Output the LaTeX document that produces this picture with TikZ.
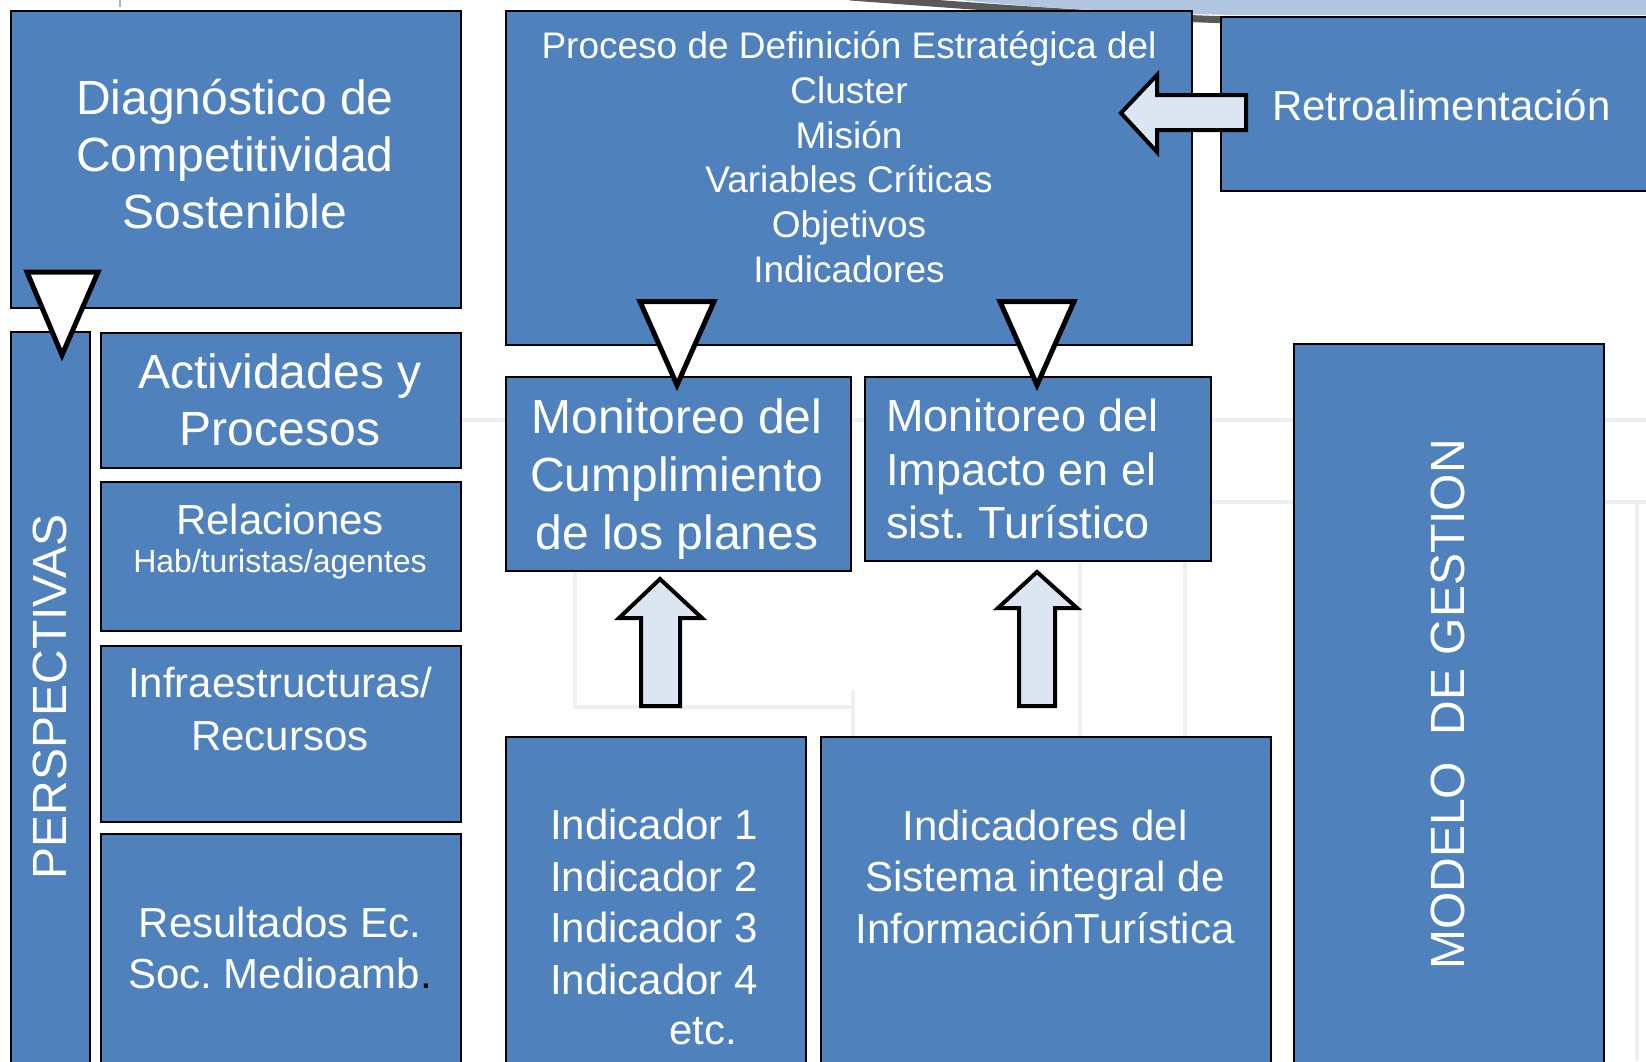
\documentclass[tikz,border=0pt]{standalone}
\usepackage{fontspec}
\setmainfont{Liberation Sans}
\frenchspacing
\definecolor{boxblue}{RGB}{79,129,189}
\definecolor{arrowfill}{RGB}{220,230,242}
\definecolor{swoosh}{RGB}{176,198,224}
\definecolor{faint}{RGB}{238,239,242}
\begin{document}
\begin{tikzpicture}[x=1pt,y=-1pt,
  box/.style={draw=black, line width=1.5pt, fill=boxblue, anchor=north west, inner sep=0pt},
  txt/.style={text=white, inner sep=0pt, align=center},
  tri/.style={draw=black, line width=5pt, fill=white, line join=miter},
  barrow/.style={draw=black, line width=4pt, fill=arrowfill, line join=miter},
  faintline/.style={draw=faint, line width=4pt}]
\useasboundingbox (0,0) rectangle (1646,1061);
\clip (0,0) rectangle (1646,1061);
% background details
\fill[white] (0,0) rectangle (1646,1061);
\fill[swoosh] (960,0) .. controls (1040,8) and (1120,12) .. (1230,15) -- (1646,15) -- (1646,0) -- cycle;
\draw[line width=7pt, gray!70!black] (850,-3) .. controls (960,5) and (1080,15) .. (1230,20);
\draw[line width=1.5pt, gray!60] (120,0) -- (120,7);
\draw[faintline] (460,420) -- (1646,420);
\draw[faintline] (1210,502) -- (1646,502);
\draw[faintline] (1637,502) -- (1637,1061);
\draw[faintline] (575,570) -- (575,707) -- (853,707);
\draw[faintline] (853,690) -- (853,736);
\draw[faintline] (1080,560) -- (1080,736);
\draw[faintline] (1185,560) -- (1185,736);
% boxes
\node[box, minimum width=450pt, minimum height=297pt] (diag) at (10,10) {};
\node[box, minimum width=686pt, minimum height=334pt] (proc) at (505,10) {};
\node[box, minimum width=440pt, minimum height=174pt] (retro) at (1220,16) {};
\node[box, minimum width=79pt, minimum height=744pt] (persp) at (10,331) {};
\node[box, minimum width=360pt, minimum height=135pt] (act) at (100,332) {};
\node[box, minimum width=360pt, minimum height=149pt] (rel) at (100,481) {};
\node[box, minimum width=360pt, minimum height=176pt] (infra) at (100,645) {};
\node[box, minimum width=360pt, minimum height=242pt] (res) at (100,833) {};
\node[box, minimum width=345pt, minimum height=194pt] (mon1) at (505,376) {};
\node[box, minimum width=346pt, minimum height=184pt] (mon2) at (864,376) {};
\node[box, minimum width=300pt, minimum height=339pt] (ind) at (505,736) {};
\node[box, minimum width=450pt, minimum height=339pt] (isist) at (820,736) {};
\node[box, minimum width=310pt, minimum height=732pt] (modelo) at (1293,343) {};
% texts
\node[txt, font=\fontsize{48}{57}\selectfont] (diagT) at (235,154) {Diagnóstico de\\Competitividad\\Sostenible};
\node[txt, font=\fontsize{37}{44.7}\selectfont] (procT) at (849,157) {Proceso de Definición Estratégica del\\Cluster\\Misión\\Variables Críticas\\Objetivos\\Indicadores};
\node[txt, anchor=west, font=\fontsize{42}{50}\selectfont] (retroT) at (1272,105) {Retroalimentación};
\node[txt, rotate=90, font=\fontsize{48}{57}\selectfont] (perspT) at (50,697) {PERSPECTIVAS};
\node[txt, font=\fontsize{48}{57.5}\selectfont] (actT) at (280,400) {Actividades y\\Procesos};
\node[txt, font=\fontsize{42}{50}\selectfont] (relT) at (280,519) {Relaciones};
\node[txt, font=\fontsize{32}{38}\selectfont] (relT2) at (280,564) {Hab/turistas/agentes};
\node[txt, font=\fontsize{42}{52.5}\selectfont] (infraT) at (280,709) {Infraestructuras/\\Recursos};
\node[txt, font=\fontsize{42}{51}\selectfont] (resT) at (280,948) {Resultados Ec.\\Soc. Medioamb\textcolor{black}{.}};
\node[txt, font=\fontsize{48}{58}\selectfont] (mon1T) at (677,479) {Monitoreo del\\Cumplimiento\\de los planes};
\node[txt, anchor=west, align=left, font=\fontsize{45}{53.5}\selectfont] (mon2T) at (886,469) {Monitoreo del\\Impacto en el\\sist. Turístico};
\node[txt, font=\fontsize{42}{51.5}\selectfont] (indT) at (654,902) {Indicador 1\\Indicador 2\\Indicador 3\\Indicador 4};
\node[txt, anchor=west, font=\fontsize{42}{51.5}\selectfont] (etcT) at (669,1031) {etc.};
\node[txt, font=\fontsize{42}{51.5}\selectfont] (isistT) at (1045,876.5) {Indicadores del\\Sistema integral de\\InformaciónTurística};
\node[txt, rotate=90, font=\fontsize{48}{57}\selectfont] (modeloT) at (1448,704.5) {MODELO\ \ DE GESTION};
% block arrows and triangles
\draw[tri] (27,272) -- (98,272) -- (62,355) -- cycle;
\draw[tri] (640,301.5) -- (714,301.5) -- (677,385) -- cycle;
\draw[tri] (1000,301.5) -- (1074,301.5) -- (1037,385) -- cycle;
\draw[barrow] (1121,113) -- (1157,75) -- (1157,95) -- (1246,95) -- (1246,130) -- (1157,130) -- (1157,152) -- cycle;
\draw[barrow] (660,579) -- (702,618) -- (680,618) -- (680,706) -- (641,706) -- (641,618) -- (619,618) -- cycle;
\draw[barrow] (1037,572) -- (1077,608) -- (1055,608) -- (1055,706) -- (1019,706) -- (1019,608) -- (998,608) -- cycle;
\end{tikzpicture}
\end{document}
